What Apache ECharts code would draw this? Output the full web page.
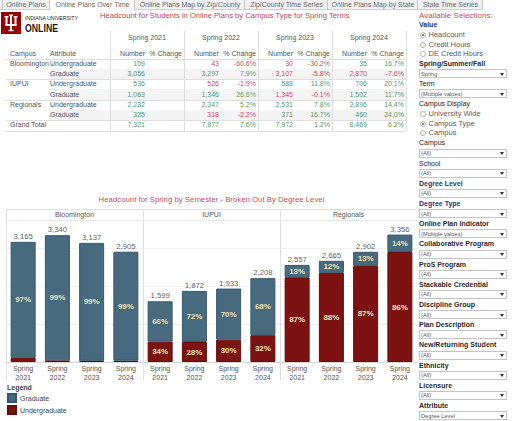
<!DOCTYPE html>
<html>
<head>
<meta charset="utf-8">
<script src="https://cdn.jsdelivr.net/npm/echarts@6/dist/echarts.min.js"></script>
<style>
html,body{margin:0;padding:0;background:#fff;}
body{width:512px;height:421px;overflow:hidden;position:relative;font-family:Arial,"Liberation Sans",sans-serif;}
#chart{position:absolute;left:0;top:0;width:512px;height:421px;}
#overlay{position:absolute;left:0;top:0;width:512px;height:421px;pointer-events:none;}
.t{position:absolute;white-space:nowrap;height:12px;line-height:12px;}
</style>
</head>
<body>
<div id="chart"></div>
<div id="overlay"></div>
<script>
// ---------- data ----------
const terms = ['Spring 2021', 'Spring 2022', 'Spring 2023', 'Spring 2024'];
const campuses = ['Bloomington', 'IUPUI', 'Regionals'];
const attributes = ['Undergraduate', 'Graduate'];

const bloomingtonUG = [109, 43, 30, 35];
const bloomingtonGrad = [3056, 3297, 3107, 2870];
const iupuiUG = [536, 526, 588, 706];
const iupuiGrad = [1063, 1346, 1345, 1502];
const regionalsUG = [2232, 2347, 2531, 2896];
const regionalsGrad = [325, 318, 371, 460];
const grandTotal = [7321, 7877, 7972, 8469];

const bloomingtonUGChange = [null, -60.6, -30.2, 16.7];
const bloomingtonGradChange = [null, 7.9, -5.8, -7.6];
const iupuiUGChange = [null, -1.9, 11.8, 20.1];
const iupuiGradChange = [null, 26.6, -0.1, 11.7];
const regionalsUGChange = [null, 5.2, 7.8, 14.4];
const regionalsGradChange = [null, -2.2, 16.7, 24.0];
const grandTotalChange = [null, 7.6, 1.2, 6.2];

const bloomingtonTotal = [3165, 3340, 3137, 2905];
const iupuiTotal = [1599, 1872, 1933, 2208];
const regionalsTotal = [2557, 2665, 2902, 3356];

const tabNames = ['Online Plans', 'Online Plans Over Time', 'Online Plans Map by Zip/County',
  'Zip/County Time Series', 'Online Plans Map by State', 'State Time Series'];
const pageTitle = 'Headcount for Students in Online Plans by Campus Type for Spring Terms';
const chartTitle = 'Headcount for Spring by Semester - Broken Out By Degree Level';
const legendNames = ['Graduate', 'Undergraduate'];

const sidebarItems = [
  ['label', 'Value', 'navy'],
  ['radio', 'Headcount', true], ['radio', 'Credit Hours', false], ['radio', 'DE Credit Hours', false],
  ['label', 'Spring/Summer/Fall'], ['drop', 'Spring'],
  ['label', 'Term', 'plain'], ['drop', '(Multiple values)'],
  ['label', 'Campus Display', 'plain'],
  ['radio', 'University Wide', false], ['radio', 'Campus Type', true], ['radio', 'Campus', false],
  ['label', 'Campus', 'plain'], ['drop', '(All)'],
  ['label', 'School', 'plain'], ['drop', '(All)'],
  ['label', 'Degree Level', 'navy'], ['drop', '(All)'],
  ['label', 'Degree Type', 'navy'], ['drop', '(All)'],
  ['label', 'Online Plan Indicator'], ['drop', '(Multiple values)'],
  ['label', 'Collaborative Program'], ['drop', '(All)'],
  ['label', 'ProS Program'], ['drop', '(All)'],
  ['label', 'Stackable Credential'], ['drop', '(All)'],
  ['label', 'Discipline Group'], ['drop', '(All)'],
  ['label', 'Plan Description'], ['drop', '(All)'],
  ['label', 'New/Returning Student'], ['drop', '(All)'],
  ['label', 'Ethnicity'], ['drop', '(All)'],
  ['label', 'Licensure'], ['drop', '(All)'],
  ['label', 'Attribute'], ['drop', 'Degree Level']
];

// ---------- html helpers ----------
const ov = document.getElementById('overlay');
function put(text, x, y, align, st) {
  const d = document.createElement('div');
  d.className = 't';
  d.textContent = text;
  const w = 300;
  if (align === 'l') { d.style.left = x + 'px'; }
  else if (align === 'r') { d.style.left = (x - w) + 'px'; d.style.width = w + 'px'; d.style.textAlign = 'right'; }
  else { d.style.left = (x - w / 2) + 'px'; d.style.width = w + 'px'; d.style.textAlign = 'center'; }
  d.style.top = (y - 6) + 'px';
  Object.assign(d.style, st || {});
  ov.appendChild(d);
  return d;
}
function box(x, y, w, h, st) {
  const d = document.createElement('div');
  d.style.position = 'absolute';
  d.style.left = x + 'px'; d.style.top = y + 'px';
  d.style.width = w + 'px'; d.style.height = h + 'px';
  d.style.boxSizing = 'border-box';
  Object.assign(d.style, st || {});
  ov.appendChild(d);
  return d;
}
const GREEN = '#5a9b65', RED = '#d04a5e', GREY = '#555';

// ---------- tabs ----------
const tabEdges = [2, 50, 135, 245, 328, 418, 483];
box(0, 0, 483, 10, { background: '#f1f1f1', borderBottom: '1px solid #cfcfcf' });
tabNames.forEach((n, i) => {
  const x0 = tabEdges[i], x1 = tabEdges[i + 1];
  box(x0, 0, x1 - x0, i === 1 ? 11 : 10, {
    background: i === 1 ? '#fff' : 'transparent',
    borderRight: '1px solid #c8c8c8', borderLeft: i === 0 ? '1px solid #c8c8c8' : 'none'
  });
  put(n, (x0 + x1) / 2, 5, 'c', { fontSize: '7px', color: '#6a6a6a' });
});

// ---------- logo ----------
const logo = box(1, 12, 20, 22, { background: '#990000' });
logo.innerHTML = '<svg width="20" height="22" viewBox="0 0 20 22" style="position:absolute;left:0;top:0">' +
  '<g fill="#fff">' +
  '<rect x="9" y="3" width="2" height="16"/>' +
  '<rect x="4.5" y="5" width="2" height="8.5"/>' +
  '<rect x="13.5" y="5" width="2" height="8.5"/>' +
  '<rect x="4.5" y="12" width="11" height="2"/>' +
  '<rect x="3.5" y="4" width="4" height="1.4"/>' +
  '<rect x="8" y="2.5" width="4" height="1.4"/>' +
  '<rect x="12.5" y="4" width="4" height="1.4"/>' +
  '<rect x="7.5" y="17.8" width="5" height="1.4"/>' +
  '</g></svg>';
put('INDIANA UNIVERSITY', 25, 18.3, 'l', { fontSize: '5.6px', color: '#222', transform: 'scaleX(0.92)', transformOrigin: 'left center' });
put('ONLINE', 25, 28, 'l', { fontSize: '11.5px', fontWeight: 'bold', color: '#1a1a1a', transform: 'scaleX(0.76)', transformOrigin: 'left center' });

put(pageTitle, 100, 16, 'l', { fontSize: '7.6px', color: '#b8474f' });

// ---------- table ----------
const tableRows = [
  ['Bloomington', attributes[0], bloomingtonUG, bloomingtonUGChange],
  ['', attributes[1], bloomingtonGrad, bloomingtonGradChange],
  ['IUPUI', attributes[0], iupuiUG, iupuiUGChange],
  ['', attributes[1], iupuiGrad, iupuiGradChange],
  ['Regionals', attributes[0], regionalsUG, regionalsUGChange],
  ['', attributes[1], regionalsGrad, regionalsGradChange],
  ['Grand Total', '', grandTotal, grandTotalChange]
];
const rowTop = 58.5, rowH = 10.3, colStart = 110, colW = 74;
tableRows.forEach((r, i) => {
  if (i % 2 === 1 && i < 6) box(49, rowTop + rowH * i, 406 - 49, rowH, { background: '#f4f4f4' });
});
[0, 2, 4, 6, 7].forEach(k => box(6, rowTop + rowH * k, 400, 1, { background: '#dedede' }));
for (let j = 0; j <= 4; j++) box(colStart + colW * j, 31, 1, rowTop + rowH * 7 - 31, { background: '#dedede' });
const fmt = v => v.toLocaleString('en-US');
const tSt = { fontSize: '7px', color: GREY };
put('Campus', 10, 54, 'l', tSt);
put('Attribute', 50, 54, 'l', tSt);
terms.forEach((t, j) => {
  const g = colStart + colW * j;
  put(t, g + 37, 38, 'c', tSt);
  put('Number', g + 35, 54, 'r', tSt);
  put('% Change', g + 72, 54, 'r', tSt);
});
tableRows.forEach((r, i) => {
  const y = rowTop + rowH * i + rowH / 2;
  if (r[0]) put(r[0], 10, y, 'l', tSt);
  if (r[1]) put(r[1], 50, y, 'l', tSt);
  terms.forEach((t, j) => {
    const g = colStart + colW * j;
    const chg = r[3][j];
    const c = (chg === null || chg >= 0) ? GREEN : RED;
    put(fmt(r[2][j]), g + 35, y, 'r', { fontSize: '7px', color: c });
    if (chg !== null) put(chg.toFixed(1) + '%', g + 72, y, 'r', { fontSize: '7px', color: c });
  });
});

// ---------- chart frame (titles, panel headers) ----------
put(chartTitle, 211.5, 200, 'c', { fontSize: '7.8px', color: '#c0505a' });
const PANEL_LEFT = 6, PANEL_W = 137, PLOT_TOP = 220, PLOT_H = 142;
box(PANEL_LEFT, 209, PANEL_W * 3, 1, { background: '#e0e0e0' });
box(PANEL_LEFT, 220, PANEL_W * 3, 1, { background: '#e6e6e6' });
for (let i = 0; i < 3; i++) {
  box(PANEL_LEFT + PANEL_W * i, 209, 1, 171, { background: '#e0e0e0' });
  put(campuses[i], PANEL_LEFT + PANEL_W * i + PANEL_W / 2, 214.5, 'c', { fontSize: '7px', color: '#555' });
}
put('Legend', 7, 387.5, 'l', { fontSize: '7px', color: '#444', fontWeight: 'bold' });

// ---------- sidebar ----------
put('Available Selections:', 419, 16, 'l', { fontSize: '8px', color: '#c2525a' });
let sy = 25, prev = 'head';
sidebarItems.forEach(it => {
  const type = it[0];
  if (prev !== 'head') {
    if (type === 'radio') sy += (prev === 'radio' ? 9.5 : 10);
    else if (type === 'drop') sy += 9.6;
    else sy += (prev === 'drop' ? 10.6 : 10);
  }
  if (type === 'label') {
    const style = { fontSize: '7px', color: '#2a2a2a', fontWeight: 'bold' };
    if (it[2] === 'navy') style.color = '#1d3773';
    if (it[2] === 'plain') { style.fontWeight = 'normal'; style.color = '#222'; }
    put(it[1], 419, sy, 'l', style);
  } else if (type === 'radio') {
    box(420, sy - 3, 6, 6, { border: '1px solid #b4b4b4', borderRadius: '50%', background: '#fff' });
    if (it[2]) box(422, sy - 1, 2, 2, { background: '#555', borderRadius: '50%' });
    put(it[1], 428.5, sy, 'l', { fontSize: '7.5px', color: '#606060' });
  } else {
    box(419, sy - 4.5, 88, 9, { border: '1px solid #c4c4c4', background: '#fff' });
    put(it[1], 421, sy, 'l', { fontSize: '5.7px', color: '#555' });
    box(500, sy - 1, 0, 0, { borderLeft: '2px solid transparent', borderRight: '2px solid transparent', borderTop: '3px solid #333' });
  }
  prev = type;
});

// ---------- echarts bar chart ----------
const panels = [
  { ug: bloomingtonUG, grad: bloomingtonGrad, total: bloomingtonTotal },
  { ug: iupuiUG, grad: iupuiGrad, total: iupuiTotal },
  { ug: regionalsUG, grad: regionalsGrad, total: regionalsTotal }
];
const GRAD_COLOR = '#476a7e', GRAD_BORDER = '#36586c';
const UG_COLOR = '#7c1212', UG_BORDER = '#650c0c';
const pctLabel = (tot) => (p) => {
  const pct = Math.round(p.value / tot[p.dataIndex] * 100);
  return pct >= 5 ? pct + '%' : '';
};
const segLabel = { show: true, position: 'inside', color: '#efe2b4', fontWeight: 'bold', fontSize: 8, fontFamily: 'Arial' };

const series = [];
panels.forEach((p, i) => {
  series.push({
    type: 'bar', name: 'Undergraduate', xAxisIndex: i, yAxisIndex: i, stack: 'p' + i,
    data: p.ug, barWidth: 25,
    itemStyle: { color: UG_COLOR, borderColor: UG_BORDER, borderWidth: 1 },
    label: Object.assign({}, segLabel, { formatter: pctLabel(p.total) })
  });
  series.push({
    type: 'bar', name: 'Graduate', xAxisIndex: i, yAxisIndex: i, stack: 'p' + i,
    data: p.grad, barWidth: 25,
    itemStyle: { color: GRAD_COLOR, borderColor: GRAD_BORDER, borderWidth: 1 },
    label: Object.assign({}, segLabel, { formatter: pctLabel(p.total) })
  });
  series.push({
    type: 'scatter', name: 'Total', xAxisIndex: i, yAxisIndex: i,
    data: p.total, symbolSize: 1, itemStyle: { color: 'rgba(0,0,0,0)' }, silent: true, z: 5,
    label: { show: true, position: 'top', distance: 1, color: '#333', fontSize: 7.8, fontFamily: 'Arial',
      formatter: q => q.value.toLocaleString('en-US') }
  });
});

const chart = echarts.init(document.getElementById('chart'), null, { renderer: 'svg' });
chart.setOption({
  animation: false,
  textStyle: { fontFamily: 'Arial' },
  grid: panels.map((p, i) => ({ left: PANEL_LEFT + PANEL_W * i, top: PLOT_TOP, width: PANEL_W, height: PLOT_H })),
  xAxis: panels.map((p, i) => ({
    type: 'category', gridIndex: i, data: terms.map(t => t.replace(' ', '\n')),
    axisTick: { show: false }, axisLine: { lineStyle: { color: '#d6d6d6' } },
    axisLabel: { fontSize: 7, color: '#555', lineHeight: 9, margin: 2, fontFamily: 'Arial' }
  })),
  yAxis: panels.map((p, i) => ({
    type: 'value', gridIndex: i, min: 0, max: 3740, interval: 1000,
    axisLabel: { show: false }, axisLine: { show: false }, axisTick: { show: false },
    splitLine: { lineStyle: { color: '#f1f1f1' } }
  })),
  legend: {
    data: legendNames, left: 7, top: 393, orient: 'vertical', padding: 0,
    itemWidth: 8, itemHeight: 8, itemGap: 2, icon: 'rect', selectedMode: false,
    textStyle: { fontSize: 7, color: '#444', fontFamily: 'Arial', padding: [0, 0, 0, -1] }
  },
  series: series
});
</script>
</body>
</html>
